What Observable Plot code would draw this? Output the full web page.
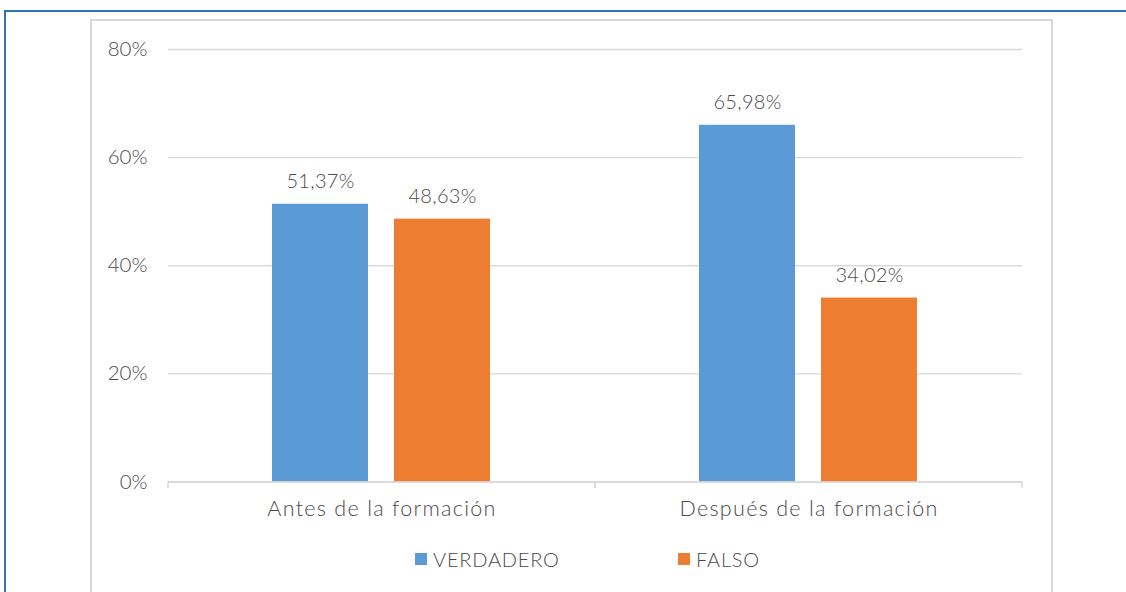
<!DOCTYPE html>
<html>
<head>
<meta charset="utf-8">
<script src="https://cdn.jsdelivr.net/npm/d3@7"></script>
<script src="https://cdn.jsdelivr.net/npm/@observablehq/plot@0.6"></script>
<style>
  html, body { margin: 0; padding: 0; background: #fff; }
  body { width: 1126px; height: 592px; position: relative; overflow: hidden; font-family: Lato, "Open Sans", sans-serif; color: #4a4a4a; }
  #blueTop { position: absolute; left: 4px; top: 9.5px; width: 1122px; height: 2px; background: #2E75B6; }
  #blueLeft { position: absolute; left: 4px; top: 9.5px; width: 2px; height: 590px; background: #2E75B6; }
  #box { position: absolute; left: 89.5px; top: 18.5px; width: 959px; height: 600px; border: 2px solid #d9d9d9; border-bottom: none; box-sizing: content-box; }
  #chart { position: absolute; left: 0; top: 0; }
  #chart text { font-weight: 300; }
  #chart g[aria-label="fx-axis tick label"] text { letter-spacing: 1.3px; }
  #chart g[aria-label="text"] text { letter-spacing: 0.3px; }
  #legend { position: absolute; top: 548px; left: 0; width: 1126px; height: 24px; }
  .item { position: absolute; top: 0; display: flex; align-items: center; font-size: 20px; line-height: 22px; color: #4a4a4a; font-weight: 300; letter-spacing: 0.8px; }
  .sw { width: 12px; height: 12px; margin-right: 6px; display: inline-block; }
</style>
</head>
<body>
<div id="blueTop"></div>
<div id="blueLeft"></div>
<div id="box"></div>
<div id="chart"></div>
<div id="legend"></div>
<script>
// ---- data ----
const categories = ["Antes de la formación", "Después de la formación"];
const series = ["VERDADERO", "FALSO"];
const verdadero = [51.37, 65.98];
const falso = [48.63, 34.02];
const yTicks = [0, 20, 40, 60, 80];
const colors = ["#5B9BD5", "#ED7D31"];

const data = categories.flatMap((c, i) => [
  {category: c, series: series[0], value: verdadero[i]},
  {category: c, series: series[1], value: falso[i]}
]);
const fmt = v => v.toFixed(2).replace(".", ",") + "%";

const grid = "#d9d9d9";
const txt = "#4a4a4a";

// tick marks at category boundaries, below the value axis
function boundaryTicks(index, scales) {
  const g = d3.create("svg:g");
  const [r0, r1] = scales.x.range();
  const y0 = scales.y(0);
  for (const xx of [r0, r1]) {
    g.append("line")
      .attr("x1", xx).attr("x2", xx)
      .attr("y1", y0).attr("y2", y0 + 6.5)
      .attr("stroke", grid).attr("stroke-width", 1.5);
  }
  return g.node();
}

const plot = Plot.plot({
  width: 1126,
  height: 540,
  marginLeft: 168,
  marginRight: 104,
  marginTop: 49,
  marginBottom: 58.5,
  style: {fontFamily: "Lato, 'Open Sans', sans-serif", color: txt, background: "transparent"},
  fx: {domain: categories, padding: 0, label: null},
  x: {domain: series, paddingInner: 0.213, paddingOuter: 0.856, axis: null},
  y: {domain: [0, 80], label: null},
  color: {domain: series, range: colors},
  marks: [
    Plot.gridY(yTicks, {stroke: grid, strokeOpacity: 1, strokeWidth: 1.3}),
    Plot.axisY(yTicks, {anchor: "left", tickSize: 0, tickPadding: 21, tickFormat: d => d + "%", fontSize: 20.5, fill: txt, label: null}),
    Plot.axisFx({anchor: "bottom", tickSize: 0, tickPadding: 19, fontSize: 21.5, fill: txt, label: null}),
    Plot.barY(data, {fx: "category", x: "series", y: "value", fill: "series"}),
    Plot.text(data, {fx: "category", x: "series", y: "value", text: d => fmt(d.value), lineAnchor: "bottom", dy: -16.5, fontSize: 20, fill: txt}),
    Plot.ruleY([0], {stroke: grid, strokeWidth: 1.5}),
    boundaryTicks
  ]
});
document.getElementById("chart").appendChild(plot);

// legend
const legend = d3.select("#legend");
const legendX = [415, 678];
series.forEach((s, i) => {
  const it = legend.append("div").attr("class", "item").style("left", legendX[i] + "px");
  it.append("span").attr("class", "sw").style("background", colors[i]);
  it.append("span").text(s);
});
</script>
</body>
</html>
